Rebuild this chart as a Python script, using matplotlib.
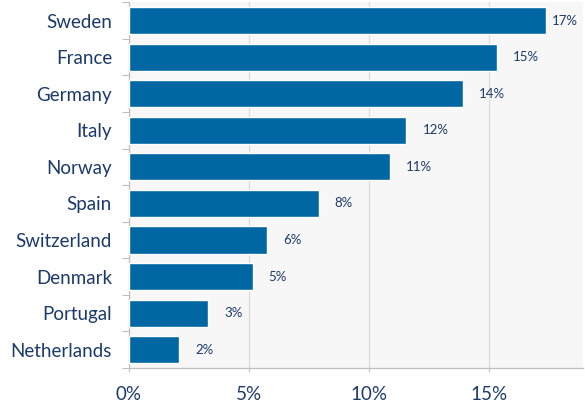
import numpy as np
import matplotlib as mpl
mpl.use('Agg')
import matplotlib.pyplot as plt
from matplotlib.ticker import FixedLocator

countries = ['Sweden', 'France', 'Germany', 'Italy', 'Norway', 'Spain',
             'Switzerland', 'Denmark', 'Portugal', 'Netherlands']
shares = [17.35, 15.3, 13.9, 11.55, 10.85, 7.9, 5.75, 5.15, 3.3, 2.1]
value_labels = ['17%', '15%', '14%', '12%', '11%', '8%', '6%', '5%', '3%', '2%']
x_ticks = [0, 5, 10, 15]
x_ticklabels = ['0%', '5%', '10%', '15%']

navy = '#1b3a6b'
blue = '#0067a3'

plt.rcParams['font.family'] = ['Lato', 'DejaVu Sans']

fig = plt.figure(figsize=(5.85, 4.05), dpi=100)
ax = fig.add_axes([0.22, 0.0914, 0.777, 0.903])
ax.set_facecolor('#f7f7f7')

y = np.arange(len(countries))
ax.barh(y, shares, height=0.74, color=blue, edgecolor='white', linewidth=1.0, zorder=3)

# value labels, the top one squeezed in so it fits
for i, (v, lab) in enumerate(zip(shares, value_labels)):
    off = 4 if i == 0 else 11.5
    ax.annotate(lab, (v, i), xytext=(off, 0), textcoords='offset points',
                ha='left', va='center', fontsize=9.5, color=navy)

ax.set_ylim(len(countries) - 0.5, -0.5)
ax.set_xlim(0, 18.9)
ax.set_yticks(y)
ax.set_yticklabels(countries, fontsize=13.5, color=navy)
ax.yaxis.set_minor_locator(FixedLocator(np.arange(-0.5, len(countries), 1)))
ax.tick_params(axis='y', which='major', length=0, pad=12)
ax.tick_params(axis='y', which='minor', length=5, color='#bfbfbf', width=0.8)

ax.set_xticks(x_ticks)
ax.set_xticklabels(x_ticklabels, fontsize=13.5, color=navy)
ax.tick_params(axis='x', length=3, color='#bfbfbf', width=0.8, pad=10)

ax.grid(axis='x', color='#d9d9d9', linewidth=0.8, zorder=0)
for s in ['top', 'right']:
    ax.spines[s].set_visible(False)
for s in ['left', 'bottom']:
    ax.spines[s].set_color('#bfbfbf')
    ax.spines[s].set_linewidth(0.9)

plt.savefig('out.png', dpi=100)
